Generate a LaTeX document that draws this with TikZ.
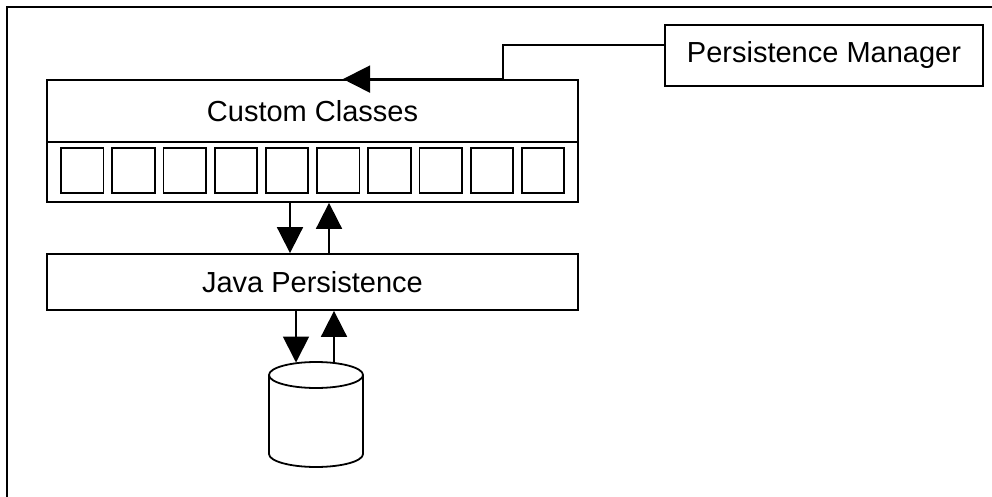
\documentclass[tikz,border=0pt]{standalone}
\usepackage{fontspec}
\setmainfont{Liberation Sans}
\usetikzlibrary{arrows.meta}

\tikzset{
  box/.style={draw, line width=1.8pt, inner sep=0pt, font=\fontsize{29}{34}\selectfont},
  cell/.style={draw, line width=1.8pt, minimum width=42.5pt, minimum height=45pt, inner sep=0pt},
  arr/.style={line width=1.8pt, -{Triangle[length=26pt,width=26pt]}},
  link/.style={line width=1.8pt},
  frame/.style={line width=2.2pt}
}

\begin{document}
\begin{tikzpicture}[x=1pt, y=-1pt]
  \useasboundingbox (0,0) rectangle (992,497);

  % outer frame (left and top edges)
  \draw[frame] (7,497) -- (7,7) -- (992,7);

  % Custom Classes: title band and row of class cells
  \node[box, minimum width=531pt, minimum height=62pt] (cc) at (312.5,111) {Custom Classes};
  \node[box, minimum width=531pt, minimum height=60pt] (panel) at (312.5,172) {};
  \foreach \i in {0,...,9}
    \node[cell] (sq\i) at (82.25+51.2*\i,170.5) {};

  % Java Persistence layer
  \node[box, minimum width=531pt, minimum height=56pt] (jp) at (312.5,282) {Java Persistence};

  % Persistence Manager
  \node[box, minimum width=318pt, minimum height=61pt] (pm) at (824,55.5) {Persistence Manager};

  % database cylinder
  \coordinate (db) at (316,375);
  \draw[link, fill=white] (269,375) -- (269,454)
     arc[start angle=180, end angle=360, x radius=47pt, y radius=13pt] -- (363,375);
  \draw[link] (db) ellipse [x radius=47pt, y radius=13pt];
  \coordinate (dbtop) at (316,362.5);

  % manager connector into the class layer
  \draw[link, -{Triangle[length=27pt,width=27pt]}]
     (pm.west |- 0,45) -- (503,45) -- (cc.north -| 503,0) -- (cc.north -| 343,0);

  % classes <-> persistence
  \draw[arr] (panel.south -| 290,0) -- (jp.north -| 290,0);
  \draw[arr] (jp.north -| 329,0) -- (panel.south -| 329,0);

  % persistence <-> database
  \draw[arr] (jp.south -| 296,0) -- (dbtop -| 296,0);
  \draw[arr] (dbtop -| 334,0) -- (jp.south -| 334,0);
\end{tikzpicture}
\end{document}
